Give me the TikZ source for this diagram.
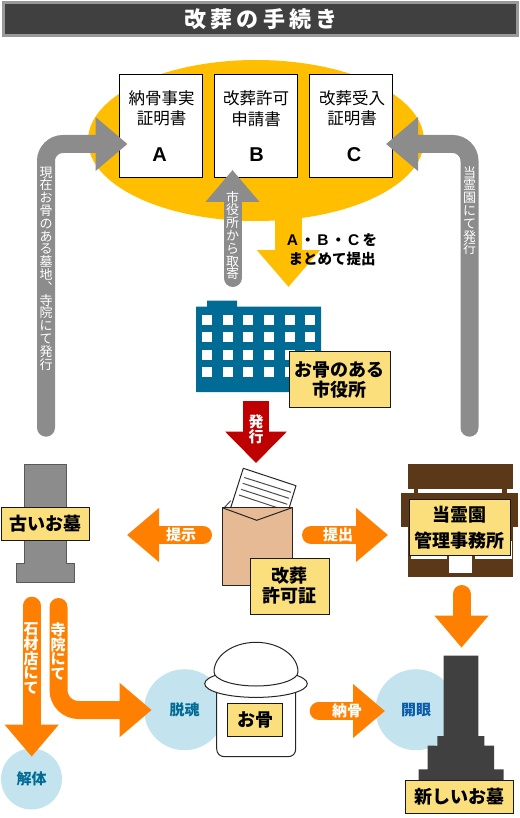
\documentclass[tikz,border=0pt]{standalone}
\usepackage{fontspec}
\usetikzlibrary{arrows.meta,shapes.geometric}
\setmainfont{Noto Sans CJK JP}
\newfontfamily\latfont{Liberation Sans}
\definecolor{goldc}{HTML}{FFBE00}
\definecolor{grayc}{HTML}{8C8C8C}
\definecolor{orangec}{HTML}{FF7F00}
\definecolor{redc}{HTML}{BE0000}
\definecolor{bluec}{HTML}{006B94}
\definecolor{blue2c}{HTML}{0B5CA8}
\definecolor{labelc}{HTML}{FADF7C}
\definecolor{skyc}{HTML}{C3E4EE}
\definecolor{brownc}{HTML}{5A3818}
\definecolor{darkc}{HTML}{404040}
\definecolor{envc}{HTML}{E6BA94}
\newcommand{\fsz}[2]{\fontsize{#1}{#2}\selectfont}
\tikzset{
  docbox/.style={draw=black,fill=white,line width=1pt,minimum width=83pt,minimum height=103pt,inner sep=0pt},
  doctext/.style={align=center,font=\fsz{16.5}{20.5},inner sep=0pt},
  docletter/.style={font=\latfont\bfseries\fsz{20}{20},inner sep=0pt},
  plate/.style={draw=black!90,fill=labelc,line width=1pt,inner sep=0pt,align=center,font=\bfseries\fsz{18}{20}},
  circ/.style={circle,fill=skyc,inner sep=0pt,font=\bfseries\fsz{15}{15},text=bluec},
  vgray/.style={align=center,inner sep=0pt,text=white,font=\fsz{13}{12.8}},
  vorange/.style={align=center,inner sep=0pt,text=white,font=\bfseries\fsz{15}{14.7}},
  arrowlabel/.style={inner sep=0pt,text=white,font=\bfseries\fsz{15}{15}},
  grayarrow/.style={draw=grayc,line width=18pt,line cap=round,rounded corners=17pt,-{Triangle[length=32pt,width=52pt,fill=grayc]}},
  orangearrow/.style={draw=orangec,line width=18pt,line cap=round,rounded corners=20pt,-{Triangle[length=32pt,width=52pt,fill=orangec]}},
  goldarrow/.style={draw=goldc,line width=27pt,-{Triangle[length=37pt,width=61pt,fill=goldc]}},
  redarrow/.style={draw=redc,line width=26pt,-{Triangle[length=31.5pt,width=60pt,fill=redc]}},
  outline/.style={draw=black!85,line width=1pt,line join=round}
}
\begin{document}
\begin{tikzpicture}[x=1pt,y=-1pt]
\useasboundingbox (0,0) rectangle (519,818);
% title
\node[draw=black!40,fill=darkc,line width=3pt,minimum width=514pt,minimum height=33pt,inner sep=0pt] (titlebar) at (260,19) {};
\node[text=white,inner sep=0pt,font=\bfseries\fsz{22}{22}\addfontfeature{LetterSpace=20}] (title) at (261,19) {改葬の手続き};
% gold oval and documents
\node[ellipse,fill=goldc,minimum width=336pt,minimum height=161pt,inner sep=0pt] (oval) at (256,140.5) {};
\node[docbox] (boxA) at (160.5,126.5) {};
\node[docbox] (boxB) at (255.5,126.5) {};
\node[docbox] (boxC) at (351,126.5) {};
\node[doctext] (tA) at (161.5,108.5) {納骨事実\\証明書};
\node[doctext] (tB) at (256,108.5) {改葬許可\\申請書};
\node[doctext] (tC) at (352,108.5) {改葬受入\\証明書};
\node[docletter] (lA) at (159.5,155) {A};
\node[docletter] (lB) at (256.5,155) {B};
\node[docletter] (lC) at (354,155) {C};
% gold arrow
\coordinate (goldstart) at (288.5,215);
\coordinate (goldtip) at (288.5,287);
\draw[goldarrow] (goldstart) -- (goldtip);
\node[inner sep=0pt,font=\bfseries\fsz{14.5}{19},align=center] (goldtext) at (332,249.5) {{\latfont\fsz{15.5}{19}A}\,・\,{\latfont\fsz{15.5}{19}B}\,・\,{\latfont\fsz{15.5}{19}C} を\\まとめて提出};
% gray arrows
\coordinate (gl0) at (46,427.7);
\coordinate (gltip) at (127.5,144);
\coordinate (gr0) at (469.5,427.7);
\coordinate (grtip) at (386,144);
\coordinate (gc0) at (232.5,278);
\coordinate (gctip) at (232.5,170);
\draw[grayarrow] (gl0) |- (gltip);
\draw[grayarrow] (gr0) |- (grtip);
\draw[grayarrow] (gc0) -- (gctip);
\node[vgray] (vl) at (46,268.5) {現\\在\\お\\骨\\の\\あ\\る\\墓\\地\\︑\\寺\\院\\に\\て\\発\\行};
\node[vgray] (vr) at (469.5,210.5) {当\\霊\\園\\に\\て\\発\\行};
\node[vgray] (vc) at (232.5,235.5) {市\\役\\所\\か\\ら\\取\\寄};
% city hall
\fill[bluec] (196,306.7) -- (207,306.7) -- (207,300.5) -- (237,300.5) -- (237,306.7) -- (321,306.7) -- (321,392) -- (196,392) -- cycle;
\foreach \wx in {207,227.7,248,268.7,289.7,310}
  \foreach \wy in {320,337.3,354.7,372.3}
    \fill[white] (\wx-5,\wy-5) rectangle (\wx+5,\wy+5);
\node[plate,minimum width=100.5pt,minimum height=56pt] (hall) at (339.8,379.8) {お骨のある\\市役所};
% red arrow
\coordinate (red0) at (256,401.3);
\coordinate (redtip) at (256,463);
\draw[redarrow] (red0) -- (redtip);
\node[vorange,font=\bfseries\fsz{15}{15}] (redtext) at (256,429) {発\\行};
% old grave
\draw[outline,fill=grayc,draw=black!65] (24,464) -- (66,464) -- (66,563.3) -- (74.7,563.3) -- (74.7,582.7) -- (16.7,582.7) -- (16.7,563.3) -- (24,563.3) -- cycle;
\node[plate,minimum width=87.3pt,minimum height=32.6pt] (oldgrave) at (45.4,524) {古いお墓};
% permit envelope
\draw[outline,fill=white] (243.3,468.3) -- (296,485.7) -- (289,508.3) -- (230.7,507.7) -- cycle;
\draw[outline,black!70] (224.3,507.7) -- (230.7,500.7);
\foreach \ax/\ay/\bx/\by in {244.3/477.5/291/492.3, 242.7/483.3/289/498.3, 241/489.3/287.3/504.3, 239/495/276.7/507.5}
  \draw[black!70,line width=1pt] (\ax,\ay) -- (\bx,\by);
\draw[outline,fill=envc] (222.3,507.7) rectangle (292,585);
\draw[outline] (222.3,507.7) -- (256.7,520.3) -- (292,507.7);
\node[plate,minimum width=79pt,minimum height=56pt] (permit) at (289.7,586) {改葬\\許可証};
% orange side arrows
\coordinate (o1s) at (203,535); \coordinate (o1t) at (127,535);
\coordinate (o2s) at (311,535); \coordinate (o2t) at (388,535);
\draw[orangearrow] (o1s) -- (o1t);
\draw[orangearrow] (o2s) -- (o2t);
\node[arrowlabel] (tp) at (181,535) {提示};
\node[arrowlabel] (ts) at (338,535) {提出};
% management office
\fill[brownc] (407.7,464) rectangle (513.3,489);
\fill[brownc] (414,489) rectangle (418.3,494);
\fill[brownc] (502.3,489) rectangle (506.7,494);
\fill[brownc] (401,493.3) rectangle (518.3,526.7);
\fill[brownc] (407.7,526) rectangle (513.3,577.3);
\fill[white] (411,556) rectangle (446.7,559.3);
\fill[white] (475,556) rectangle (511.7,559.3);
\fill[white] (510,541) rectangle (511.7,556);
\fill[white] (449.3,555) rectangle (472.3,572.7);
\node[plate,minimum width=101pt,minimum height=55.7pt,font=\bfseries\fsz{18}{26}] (office) at (459.5,527.2) {当霊園\\管理事務所};
% circles
\node[circ,minimum size=61pt] (c1) at (31.5,779) {解体};
\node[circ,minimum size=81pt] (c2) at (184.5,709.7) {脱魂};
\node[circ,minimum size=81pt,text=blue2c] (c3) at (416,709.7) {開眼};
% orange down arrows
\coordinate (o3s) at (461.5,594); \coordinate (o3t) at (461.5,647.7);
\coordinate (o4s) at (31.7,605.7); \coordinate (o4t) at (31.7,756.7);
\coordinate (o5s) at (58.5,607); \coordinate (o5t) at (151.7,710);
\coordinate (o6s) at (318.7,711); \coordinate (o6t) at (385,711);
\draw[orangearrow] (o3s) -- (o3t);
\draw[orangearrow] (o4s) -- (o4t);
\draw[orangearrow] (o5s) |- (o5t);
\draw[orangearrow] (o6s) -- (o6t);
\node[vorange] (v4) at (31,658.5) {石\\材\\店\\に\\て};
\node[vorange] (v5) at (58,651.5) {寺\\院\\に\\て};
\node[arrowlabel] (tn) at (347,711) {納骨};
% urn
\draw[outline,fill=white] (216.7,688) -- (216.7,748.7) .. controls (216.7,753.7) and (220,756.7) .. (224.7,756.7) -- (287.7,756.7) .. controls (292.7,756.7) and (295.7,753.7) .. (295.7,748.7) -- (295.7,688) -- cycle;
\node[ellipse,draw=black!85,fill=white,line width=1pt,minimum width=102.6pt,minimum height=27.4pt,inner sep=0pt] (brim) at (256,683.7) {};
\draw[outline,fill=white] (214,672) .. controls (214,655.6) and (232.9,642.3) .. (256,642.3) .. controls (279.1,642.3) and (298,655.6) .. (298,672) .. controls (298,679.7) and (279.1,686) .. (256,686) .. controls (232.9,686) and (214,679.7) .. (214,672) -- cycle;
\node[plate,minimum width=55.4pt,minimum height=32.6pt] (bone) at (255,720) {お骨};
% new grave
\fill[darkc] (443.7,655.7) -- (478.3,655.7) -- (478.3,736) -- (484.3,736) -- (484.3,745.7) -- (494,745.7) -- (494,769.3) -- (503.7,769.3) -- (503.7,782) -- (418.7,782) -- (418.7,769.3) -- (427.7,769.3) -- (427.7,745.7) -- (437.3,745.7) -- (437.3,736) -- (443.7,736) -- cycle;
\node[plate,minimum width=108.3pt,minimum height=33pt] (newgrave) at (459.2,796.5) {新しいお墓};
\end{tikzpicture}
\end{document}
